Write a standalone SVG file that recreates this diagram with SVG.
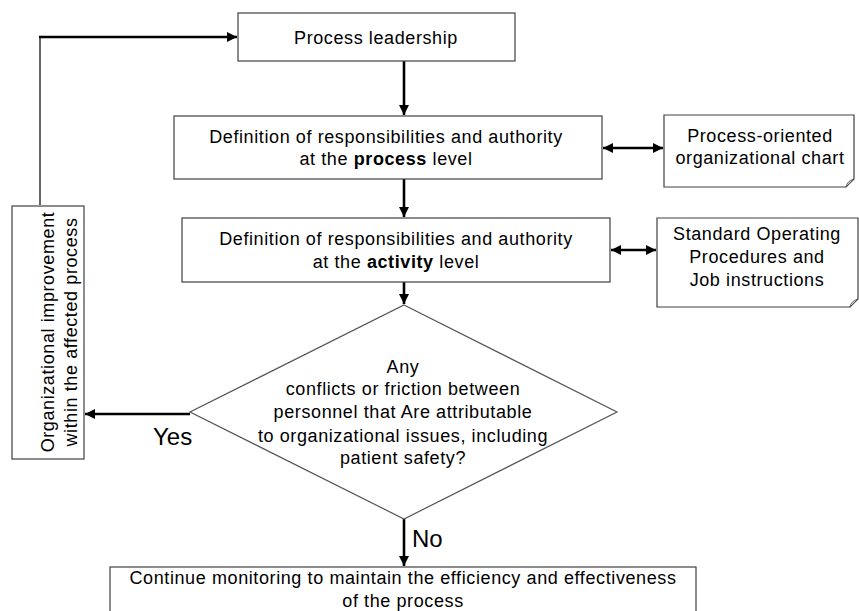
<svg xmlns="http://www.w3.org/2000/svg" width="859" height="611" viewBox="0 0 859 611">
  <style>
    .box { fill: #ffffff; stroke: #404040; stroke-width: 1.2; }
    .doc { fill: #ffffff; stroke: #404040; stroke-width: 1.2; }
    .fold { fill: #d9d9d9; stroke: #404040; stroke-width: 0.8; }
    .t { font-family: "Liberation Sans", Arial, sans-serif; font-size: 18px; letter-spacing: 0.6px; fill: #000; text-anchor: middle; }
    .lbl { font-family: "Liberation Sans", Arial, sans-serif; font-size: 24px; fill: #000; }
    .edge { fill: none; stroke: #000; stroke-width: 2.6; }
    .thin { fill: none; stroke: #000; stroke-width: 1.2; }
  </style>
  <defs>
    <marker id="ah" viewBox="0 0 10 10" refX="10" refY="5" markerWidth="4" markerHeight="4" orient="auto-start-reverse" markerUnits="strokeWidth">
      <path d="M0,0 L10,5 L0,10 z" fill="#000"/>
    </marker>
  </defs>

  <rect width="859" height="611" fill="#ffffff"/>

  <!-- connectors -->
  <g id="connectors">
    <line class="edge" x1="404" y1="61" x2="404" y2="115" marker-end="url(#ah)"/>
    <line class="edge" x1="404" y1="179" x2="404" y2="217" marker-end="url(#ah)"/>
    <line class="edge" x1="404" y1="282" x2="404" y2="304" marker-end="url(#ah)"/>
    <line class="edge" x1="404" y1="519" x2="404" y2="566" marker-end="url(#ah)"/>
    <line class="edge" x1="190" y1="414" x2="85" y2="414" marker-end="url(#ah)"/>
    <line class="edge" x1="603" y1="148" x2="663" y2="148" marker-start="url(#ah)" marker-end="url(#ah)"/>
    <line class="edge" x1="611" y1="250" x2="656" y2="250" marker-start="url(#ah)" marker-end="url(#ah)"/>
    <line class="thin" x1="40" y1="205" x2="40" y2="37"/>
    <line class="edge" x1="39" y1="37" x2="237" y2="37" marker-end="url(#ah)"/>
  </g>

  <!-- nodes -->
  <g id="leadership">
    <rect class="box" x="238" y="13" width="277" height="48"/>
    <text class="t" x="376" y="44">Process leadership</text>
  </g>

  <g id="process-level">
    <rect class="box" x="174" y="116" width="428" height="63"/>
    <text class="t" x="386" y="143">Definition of responsibilities and authority</text>
    <text class="t" x="386" y="165">at the <tspan font-weight="bold">process</tspan> level</text>
  </g>

  <g id="activity-level">
    <rect class="box" x="182" y="218" width="428" height="64"/>
    <text class="t" x="396" y="245">Definition of responsibilities and authority</text>
    <text class="t" x="396" y="268">at the <tspan font-weight="bold">activity</tspan> level</text>
  </g>

  <g id="org-chart">
    <path class="doc" d="M664,115 H854 V179 L846,187 H664 Z"/>
    <path class="fold" d="M854,179 L846,187 Q847,181 854,179 Z"/>
    <text class="t" x="760" y="142">Process-oriented</text>
    <text class="t" x="760" y="164">organizational chart</text>
  </g>

  <g id="sop">
    <path class="doc" d="M657,218 H858 V299 L850,307 H657 Z"/>
    <path class="fold" d="M858,299 L850,307 Q851,301 858,299 Z"/>
    <text class="t" x="757" y="240">Standard Operating</text>
    <text class="t" x="757" y="263">Procedures and</text>
    <text class="t" x="757" y="286">Job instructions</text>
  </g>

  <g id="decision">
    <polygon points="404,305 617,412 404,519 190,412" fill="#ffffff" stroke="#555" stroke-width="1.2"/>
    <text class="t" x="403" y="373">Any</text>
    <text class="t" x="403" y="395">conflicts or friction between</text>
    <text class="t" x="403" y="418">personnel that Are attributable</text>
    <text class="t" x="403" y="442">to organizational issues, including</text>
    <text class="t" x="403" y="464">patient safety?</text>
  </g>

  <g id="improvement">
    <rect class="box" x="12" y="206" width="72" height="253"/>
    <text class="t" transform="translate(54,332) rotate(-90)">Organizational improvement</text>
    <text class="t" transform="translate(77,332) rotate(-90)">within the affected process</text>
  </g>

  <g id="monitoring">
    <rect class="box" x="110" y="567" width="586" height="50"/>
    <text class="t" x="403" y="584">Continue monitoring to maintain the efficiency and effectiveness</text>
    <text class="t" x="403" y="607">of the process</text>
  </g>

  <g id="labels">
    <text class="lbl" x="153" y="445">Yes</text>
    <text class="lbl" x="412" y="547">No</text>
  </g>
</svg>
